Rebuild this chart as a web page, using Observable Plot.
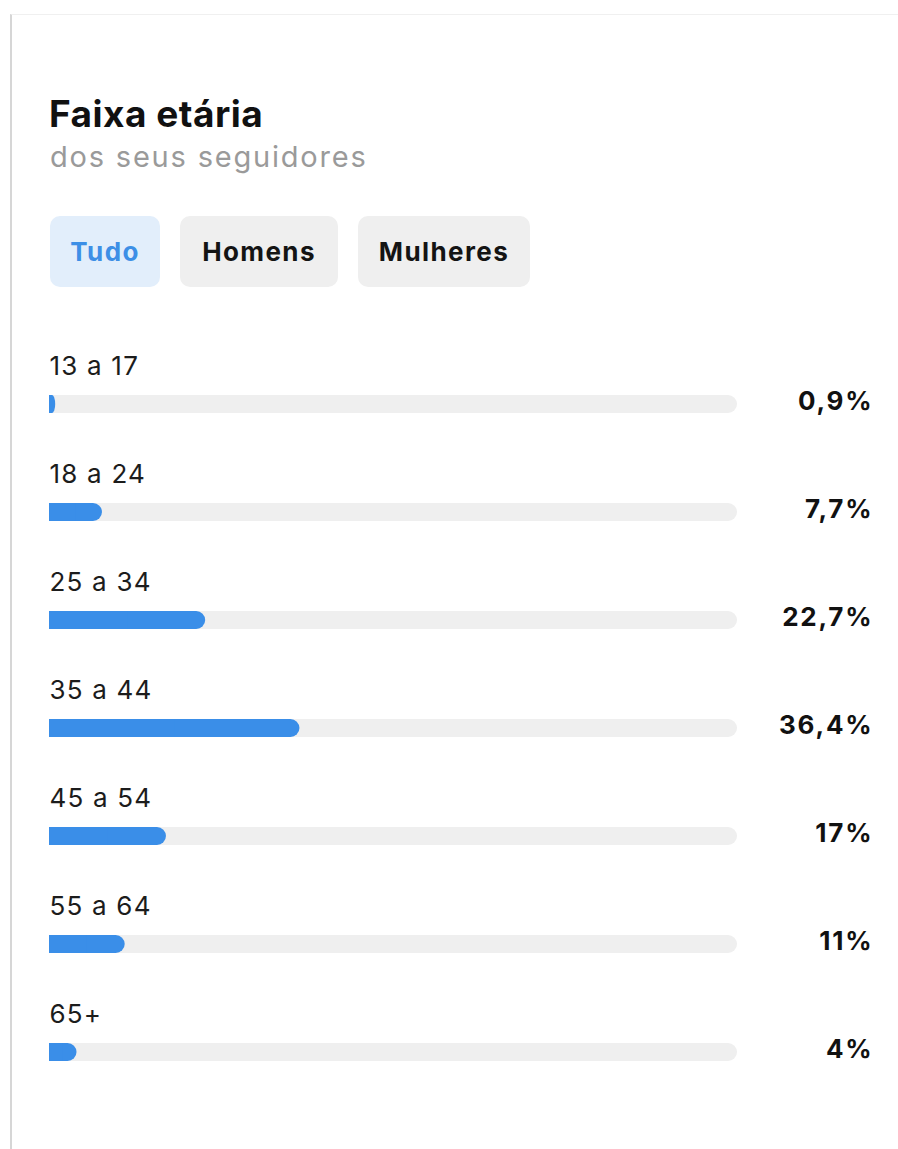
<!DOCTYPE html>
<html>
<head>
<meta charset="utf-8">
<script src="https://cdn.jsdelivr.net/npm/d3@7"></script>
<script src="https://cdn.jsdelivr.net/npm/@observablehq/plot@0.6"></script>
<style>
  html, body { margin: 0; padding: 0; background: #fff; overflow: hidden; }
  body { width: 898px; height: 1149px; position: relative; font-family: Inter, "Open Sans", sans-serif; }
  .card { position: absolute; left: 10px; top: 14px; right: 0; bottom: 0; border-left: 2px solid #d6d6d6; border-top: 1px solid #f0f0f0; }
  .header { position: relative; width: 898px; height: 330px; }
  .title { position: absolute; left: 49px; top: 95px; font-size: 37px; line-height: 37px; font-weight: 700; color: #111; letter-spacing: 0.5px; }
  .subtitle { position: absolute; left: 50px; top: 142px; font-size: 29px; line-height: 29px; color: #9a9a9a; letter-spacing: 1.8px; }
  .btn { position: absolute; top: 216px; height: 71px; border-radius: 10px; display: flex; align-items: center; justify-content: center; font-size: 26px; font-weight: 700; color: #141414; background: #efefef; letter-spacing: 1.4px; }
  .btn.active { background: #e2eefb; color: #3d8fe6; }
  #chart { position: relative; }
  #chart svg { display: block; }
</style>
</head>
<body>
<div class="card"></div>
<div class="header">
  <div class="title">Faixa etária</div>
  <div class="subtitle">dos seus seguidores</div>
  <div class="btn active" style="left:50px;width:110px;">Tudo</div>
  <div class="btn" style="left:180px;width:158px;">Homens</div>
  <div class="btn" style="left:358px;width:172px;">Mulheres</div>
</div>
<div id="chart"></div>
<script>
const ages = ["13 a 17", "18 a 24", "25 a 34", "35 a 44", "45 a 54", "55 a 64", "65+"];
const shares = [0.9, 7.7, 22.7, 36.4, 17, 11, 4];
const shareLabels = ["0,9%", "7,7%", "22,7%", "36,4%", "17%", "11%", "4%"];

const data = ages.map((a, i) => ({age: a, share: shares[i], label: shareLabels[i]}));
const blue = "#3a8ee8";
const track = "#efefef";
const ins = {insetTop: 45, insetBottom: 45};

const chart = Plot.plot({
  width: 898,
  height: 819,
  marginTop: 19.5,
  marginBottom: 43.5,
  marginLeft: 49,
  marginRight: 161,
  x: {domain: [0, 100], axis: null},
  y: {domain: ages, axis: null, padding: 0},
  style: {fontFamily: "Inter, 'Open Sans', sans-serif", background: "transparent", overflow: "visible"},
  marks: [
    Plot.barX(data, {y: "age", x1: 0, x2: 100, fill: track, rx: 9, ...ins}),
    Plot.barX(data, {y: "age", x1: 0, x2: 50, fill: track, ...ins}),
    Plot.barX(data, {y: "age", x1: 0, x2: "share", fill: blue, rx: 9, ...ins}),
    Plot.barX(data, {y: "age", x1: 0, x2: d => d.share / 2, fill: blue, ...ins}),
    Plot.text(data, {y: "age", text: "age", frameAnchor: "left", textAnchor: "start", lineAnchor: "bottom", dy: -29.5, fontSize: 26, fill: "#1c1c1c"}),
    Plot.text(data, {y: "age", text: "label", frameAnchor: "right", textAnchor: "end", dx: 136, dy: -3, fontSize: 26, fontWeight: 700, fill: "#111"})
  ]
});
const textGroups = d3.select(chart).selectAll('g[aria-label="text"]').nodes();
if (textGroups[0]) textGroups[0].setAttribute("letter-spacing", "1.2");
if (textGroups[1]) textGroups[1].setAttribute("letter-spacing", "1.8");
document.getElementById("chart").appendChild(chart);
</script>
</body>
</html>
